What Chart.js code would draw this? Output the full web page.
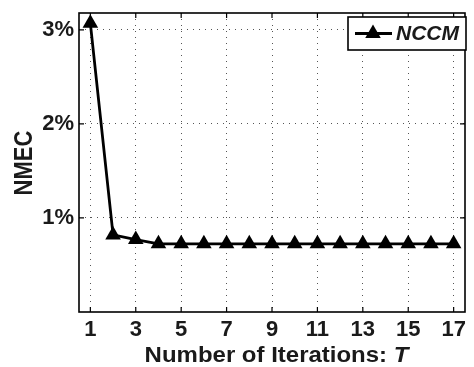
<!DOCTYPE html>
<html><head><meta charset="utf-8">
<script src="https://cdn.jsdelivr.net/npm/chart.js@4/dist/chart.umd.min.js"></script>
<style>html,body{margin:0;padding:0;background:#fff}#wrap{width:474px;height:367px;position:relative}</style>
</head><body><div id="wrap"><canvas id="c" width="474" height="367"></canvas></div>
<script>
const iterations = [1,2,3,4,5,6,7,8,9,10,11,12,13,14,15,16,17];
const nmecValues = [3.07,0.82,0.77,0.725,0.725,0.725,0.725,0.725,0.725,0.725,0.725,0.725,0.725,0.725,0.725,0.725,0.725];
const xTickValues = [1,3,5,7,9,11,13,15,17];
const yTickValues = [1,2,3];
const seriesName = 'NCCM';
const yTitle = 'NMEC';
const xTitleMain = 'Number of Iterations: ';
const xTitleVar = 'T';

const FONT = '"Liberation Sans", Arial, sans-serif';

const decor = {
  id: 'decor',
  afterDraw(chart) {
    const ctx = chart.ctx, a = chart.chartArea;
    const xs = chart.scales.x, ys = chart.scales.y;
    ctx.save();
    // frame
    ctx.strokeStyle = '#000'; ctx.lineWidth = 1.6;
    ctx.strokeRect(a.left, a.top, a.right - a.left, a.bottom - a.top);
    // inside ticks
    ctx.lineWidth = 1.2;
    xTickValues.forEach(v => {
      const x = xs.getPixelForValue(v);
      ctx.beginPath(); ctx.moveTo(x, a.bottom); ctx.lineTo(x, a.bottom - 5);
      ctx.moveTo(x, a.top); ctx.lineTo(x, a.top + 5); ctx.stroke();
    });
    yTickValues.forEach(v => {
      const y = ys.getPixelForValue(v);
      ctx.beginPath(); ctx.moveTo(a.left, y); ctx.lineTo(a.left + 5, y);
      ctx.moveTo(a.right, y); ctx.lineTo(a.right - 5, y); ctx.stroke();
    });
    // axis titles
    ctx.fillStyle = '#1a1a1a';
    ctx.textBaseline = 'alphabetic';
    ctx.font = 'bold 22px ' + FONT;
    const w1 = ctx.measureText(xTitleMain).width;
    ctx.font = 'italic bold 22px ' + FONT;
    const w2 = ctx.measureText(xTitleVar).width;
    const sxScale = 1.09;
    const cx = 276.5;
    ctx.save();
    ctx.translate(cx, 362);
    ctx.scale(sxScale, 1);
    const start = -(w1 + w2) / 2;
    ctx.textAlign = 'left';
    ctx.font = 'bold 22px ' + FONT;
    ctx.fillText(xTitleMain, start, 0);
    ctx.font = 'italic bold 22px ' + FONT;
    ctx.fillText(xTitleVar, start + w1, 0);
    ctx.restore();
    ctx.save();
    ctx.translate(32, 163);
    ctx.rotate(-Math.PI / 2);
    ctx.scale(1, 1.2);
    ctx.textAlign = 'center';
    ctx.textBaseline = 'alphabetic';
    ctx.font = 'bold 22px ' + FONT;
    ctx.fillText(yTitle, 0, 0);
    ctx.restore();
    // legend
    const lx = 348, ly = 17, lw = 118, lh = 33;
    ctx.fillStyle = '#fff';
    ctx.fillRect(lx, ly, lw, lh);
    ctx.strokeStyle = '#000'; ctx.lineWidth = 1.6;
    ctx.strokeRect(lx, ly, lw, lh);
    const my = ly + lh / 2;
    ctx.lineWidth = 2.8;
    ctx.beginPath(); ctx.moveTo(lx + 7, my); ctx.lineTo(lx + 44, my); ctx.stroke();
    const tx = lx + 25, r = 9;
    ctx.fillStyle = '#000';
    ctx.beginPath();
    ctx.moveTo(tx, my - r);
    ctx.lineTo(tx + r * Math.sin(2 * Math.PI / 3), my - r * Math.cos(2 * Math.PI / 3));
    ctx.lineTo(tx + r * Math.sin(4 * Math.PI / 3), my - r * Math.cos(4 * Math.PI / 3));
    ctx.closePath(); ctx.fill();
    ctx.fillStyle = '#1a1a1a';
    ctx.font = 'italic bold 21px ' + FONT;
    ctx.textAlign = 'left';
    ctx.textBaseline = 'middle';
    ctx.fillText(seriesName, lx + 48, my + 1);
    ctx.restore();
  }
};

new Chart(document.getElementById('c'), {
  type: 'line',
  data: {
    datasets: [{
      label: seriesName,
      data: iterations.map((x, i) => ({ x: x, y: nmecValues[i] })),
      borderColor: '#000',
      backgroundColor: '#000',
      borderWidth: 2.8,
      pointStyle: 'triangle',
      pointRadius: 9,
      pointBorderWidth: 0,
      pointBackgroundColor: '#000',
      tension: 0
    }]
  },
  options: {
    responsive: false,
    animation: false,
    devicePixelRatio: 1,
    layout: { padding: { left: 0, right: 2, top: 13, bottom: 0 } },
    plugins: { legend: { display: false }, tooltip: { enabled: false } },
    scales: {
      x: {
        type: 'linear', min: 0.5, max: 17.5,
        afterBuildTicks: s => { s.ticks = xTickValues.map(v => ({ value: v })); },
        afterFit: s => { s.height = 55; s.paddingLeft = 0; s.paddingRight = 0; },
        border: { display: false, dash: [1, 5] },
        grid: { color: '#555', lineWidth: 1, tickLength: 0, drawTicks: false },
        ticks: { color: '#1a1a1a', font: { family: FONT, size: 22, weight: 'bold' }, padding: 5, maxRotation: 0, autoSkip: false }
      },
      y: {
        type: 'linear', min: 0, max: 3.18,
        afterBuildTicks: s => { s.ticks = yTickValues.map(v => ({ value: v })); },
        afterFit: s => { s.width = 79; s.paddingTop = 0; s.paddingBottom = 0; },
        border: { display: false, dash: [1, 5] },
        grid: { color: '#555', lineWidth: 1, tickLength: 0, drawTicks: false },
        ticks: { color: '#1a1a1a', font: { family: FONT, size: 22, weight: 'bold' }, padding: 5, callback: v => v + '%' }
      }
    }
  },
  plugins: [decor]
});
</script></body></html>
